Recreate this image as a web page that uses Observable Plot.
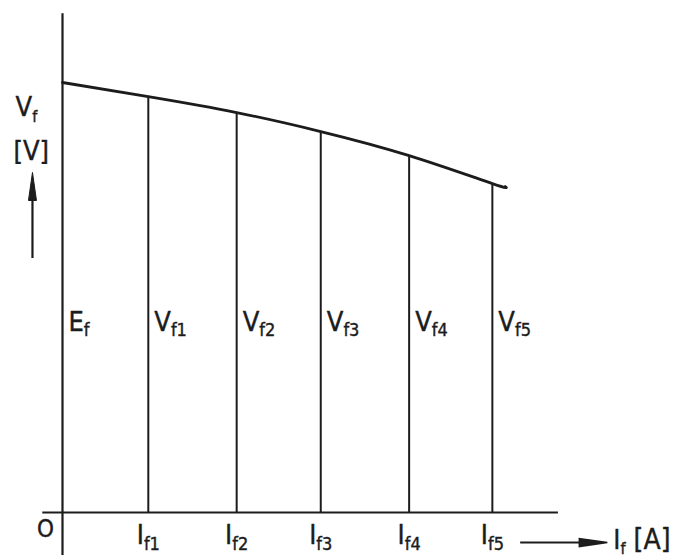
<!DOCTYPE html>
<html><head><meta charset="utf-8">
<script src="https://cdn.jsdelivr.net/npm/d3@7"></script>
<script src="https://cdn.jsdelivr.net/npm/@observablehq/plot@0.6"></script>
<style>body{margin:0;background:#fff}</style>
</head><body><div id="chart"></div>
<script>
// Field current positions (0 = open circuit, Ef) and terminal voltages (relative units)
const currents = [0, 1.0, 2.03, 3.01, 4.04, 5.01];
const voltages = [100, 96.7, 93.0, 88.6, 83.0, 76.5];
// External characteristic curve (slightly extended beyond If5)
const curveX = [0, 1.0, 2.03, 3.01, 4.04, 5.01, 5.16];
const curveY = [100, 96.7, 93.0, 88.6, 83.0, 76.5, 75.8];
// Labels on the vertical lines
const lineMain = ["E", "V", "V", "V", "V", "V"];
const lineSub = ["f", "f1", "f2", "f3", "f4", "f5"];
// Tick labels under the x axis
const tickMain = ["I", "I", "I", "I", "I"];
const tickSub = ["f1", "f2", "f3", "f4", "f5"];
const originLabel = "O";
// Axis titles
const yTitleMain = "V", yTitleSub = "f", yUnit = "[V]";
const xTitleMain = "I", xTitleSub = "f", xUnit = " [A]";

const ink = "#1c1c1c";
const font = "'DejaVu Sans Condensed', 'DejaVu Sans', sans-serif";

const lines = currents.map((c, i) => ({x: c, v: voltages[i], main: lineMain[i], sub: lineSub[i]}));
const curve = curveX.map((x, i) => ({x, y: curveY[i]}));
const ticks = currents.slice(1).map((c, i) => ({x: c, main: tickMain[i], sub: tickSub[i]}));

// elongated filled arrowhead, tip at origin, pointing up
const head = {draw(ctx) { ctx.moveTo(0, 0); ctx.lineTo(-4, 28); ctx.lineTo(4, 28); ctx.closePath(); }};

const txt = {fill: ink, stroke: ink, strokeWidth: 0.4};

const chart = Plot.plot({
  width: 680, height: 557,
  marginLeft: 62, marginRight: 189, marginTop: 82, marginBottom: 45,
  x: {domain: [0, 5], axis: null},
  y: {domain: [0, 100], axis: null},
  style: {fontFamily: font, color: ink, background: "#fff"},
  marks: [
    // axes
    Plot.ruleY([0], {x1: -0.23, x2: 5.78, stroke: ink, strokeWidth: 2}),
    Plot.ruleX([0], {y1: -10, y2: 116, stroke: ink, strokeWidth: 2.2}),
    // ordinates
    Plot.ruleX(lines.slice(1), {x: "x", y1: 0, y2: "v", stroke: ink, strokeWidth: 2}),
    // characteristic
    Plot.line(curve, {x: "x", y: "y", curve: "natural", stroke: ink, strokeWidth: 2.8}),
    // [text mark 0] labels on ordinates
    Plot.text(lines, {x: "x", y: 44.2, text: "main", dx: 6, textAnchor: "start", fontSize: 27, ...txt}),
    // [text mark 1] tick labels
    Plot.text(ticks, {x: "x", y: 0, text: "main", dy: 22.5, textAnchor: "middle", fontSize: 27, ...txt}),
    // [text mark 2] origin
    Plot.text([originLabel], {x: 0, y: 0, text: d => d, dx: -17, dy: 16.5, fontSize: 24, ...txt}),
    // [text mark 3] y title
    Plot.text([yTitleMain], {x: 0, y: 94.2, text: d => d, dx: -47, textAnchor: "start", fontSize: 27, ...txt}),
    // [text mark 4] y unit
    Plot.text([yUnit], {x: 0, y: 84.0, text: d => d, dx: -49, textAnchor: "start", fontSize: 27, ...txt}),
    Plot.ruleX([0], {x: -0.35, y1: 59.07, y2: 72.5, stroke: ink, strokeWidth: 2.2}),
    Plot.dot([0], {x: -0.35, y: 79.07, symbol: head, fill: ink, stroke: ink, strokeWidth: 1}),
    // x title arrow
    Plot.ruleY([0], {x1: 5.34, x2: 6.1, y: -6.98, stroke: ink, strokeWidth: 2.2}),
    Plot.dot([0], {x: 6.35, y: -6.98, symbol: head, rotate: 90, fill: ink, stroke: ink, strokeWidth: 1.5}),
    // [text mark 5] x title
    Plot.text([xTitleMain], {x: 6.42, y: -6.5, text: d => d, textAnchor: "start", fontSize: 27, ...txt})
  ]
});

const textGroups = d3.select(chart).selectAll('g[aria-label="text"]').nodes();
function addSub(groupIndex, subs, size, dy, rest) {
  d3.select(textGroups[groupIndex]).selectAll("text").each(function (_, i) {
    const t = d3.select(this);
    t.append("tspan").attr("font-size", size).attr("dy", dy).text(subs[i]);
    if (rest) t.append("tspan").attr("dy", -dy).attr("font-size", 28).text(rest);
  });
}
addSub(0, lineSub, 18, 5);
addSub(1, tickSub, 18, 6);
addSub(3, [yTitleSub], 16, 6);
addSub(5, [xTitleSub], 16, 5, xUnit);

document.getElementById("chart").append(chart);
</script>
</body></html>
